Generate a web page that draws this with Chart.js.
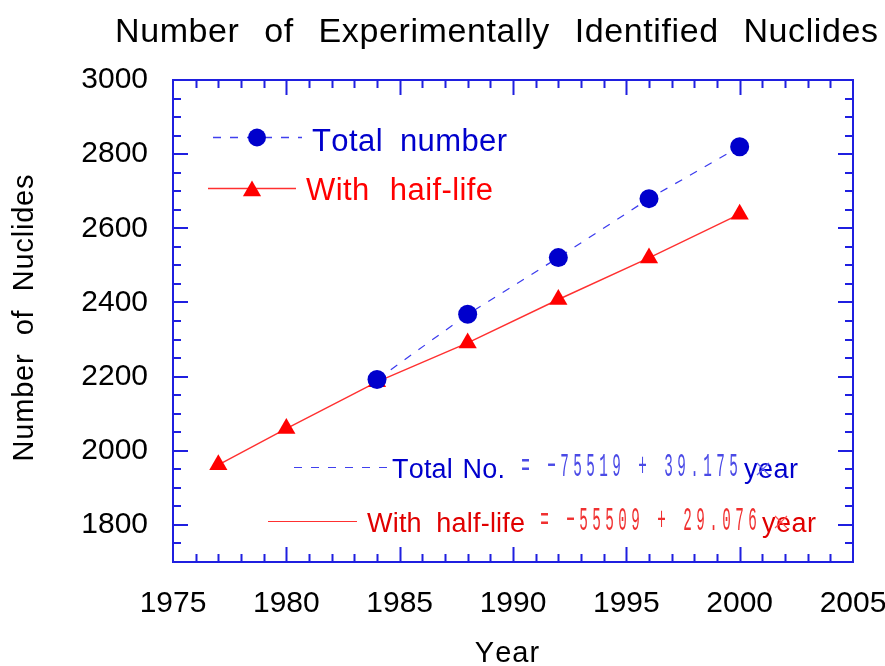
<!DOCTYPE html>
<html><head><meta charset="utf-8">
<script src="https://cdn.jsdelivr.net/npm/chart.js@4.4.1/dist/chart.umd.min.js"></script>
<style>html,body{margin:0;padding:0;background:#fff}#wrap{width:885px;height:666px;position:relative}</style>
</head><body><div id="wrap"><canvas id="c" width="885" height="666"></canvas></div>
<script>
// ---- data ----
const totalYears = [1984, 1988, 1992, 1996, 2000];
const totalNumber = [2192, 2368, 2521, 2680, 2820];
const halfLifeYears = [1977, 1980, 1984, 1988, 1992, 1996, 2000];
const withHalfLife = [1962, 2060, 2186, 2291, 2408, 2520, 2638];
const xTickLabels = [1975, 1980, 1985, 1990, 1995, 2000, 2005];
const yTickLabels = [1800, 2000, 2200, 2400, 2600, 2800, 3000];
const fitTotal = ['-75519', '39.175'];
const fitHalf = ['-55509', '29.076'];
const titleText = 'Number of Experimentally Identified Nuclides';
const xTitle = 'Year';
const yTitle = 'Number of Nuclides';
const legendTotal = 'Total number';
const legendHalf = 'With haif-life';
const eqTotalLabel = 'Total No.';
const eqHalfLabel = 'With half-life';

const FONT = '"Liberation Sans", Arial, sans-serif';
const BLUE = '#0000cc';
const RED = '#ff0000';
const AXIS = '#1f1fe0';

function wordWidth(ctx, w, ls) {
  let s = 0;
  for (const ch of w) s += ctx.measureText(ch).width + ls;
  return s - ls;
}
function drawWord(ctx, w, x, y, ls) {
  let cx = x;
  for (const ch of w) { ctx.fillText(ch, cx, y); cx += ctx.measureText(ch).width + ls; }
}
function spacedText(ctx, text, x, y, target, align, ls) {
  ls = ls || 0;
  const words = text.split(' ');
  const widths = words.map(w => wordWidth(ctx, w, ls));
  const wsum = widths.reduce((a, b) => a + b, 0);
  const sp = words.length > 1 ? (target - wsum) / (words.length - 1) : 0;
  const total = words.length > 1 ? target : wsum;
  let cx = align === 'center' ? x - total / 2 : (align === 'right' ? x - total : x);
  ctx.textAlign = 'left';
  words.forEach((w, i) => { drawWord(ctx, w, cx, y, ls); cx += widths[i] + sp; });
}

function monoText(ctx, str, x, y, adv, color) {
  ctx.save();
  ctx.fillStyle = color;
  ctx.font = '34px "Liberation Mono", "Courier New", monospace';
  ctx.textAlign = 'center';
  ctx.textBaseline = 'alphabetic';
  for (let i = 0; i < str.length; i++) {
    const ch = str[i] === '-' ? '\u2212' : str[i];
    if (ch === ' ') continue;
    ctx.save();
    ctx.translate(x + i * adv + adv / 2, y);
    ctx.scale(0.42, 1);
    ctx.fillText(ch, 0, 0);
    ctx.restore();
  }
  ctx.restore();
}

function crossMark(ctx, x, y, color) {
  ctx.save();
  ctx.strokeStyle = color; ctx.lineWidth = 1.2;
  ctx.beginPath();
  ctx.moveTo(x - 6, y - 6); ctx.lineTo(x + 6, y + 6);
  ctx.moveTo(x + 6, y - 6); ctx.lineTo(x - 6, y + 6);
  ctx.stroke();
  ctx.restore();
}

function triangle(ctx, x, y, r, color) {
  ctx.save();
  ctx.fillStyle = color;
  ctx.beginPath();
  ctx.moveTo(x, y - r);
  ctx.lineTo(x + r * Math.sin(Math.PI / 3), y + r * 0.5);
  ctx.lineTo(x - r * Math.sin(Math.PI / 3), y + r * 0.5);
  ctx.closePath(); ctx.fill();
  ctx.restore();
}

const framePlugin = {
  id: 'frame',
  beforeDatasetsDraw(chart) {
    const ctx = chart.ctx, a = chart.chartArea;
    const xs = chart.scales.x, ys = chart.scales.y;
    ctx.save();
    ctx.strokeStyle = AXIS; ctx.lineWidth = 2;
    ctx.strokeRect(a.left, a.top, a.right - a.left, a.bottom - a.top);
    ctx.beginPath();
    for (let v = xs.min + 1; v < xs.max; v += 1) {
      const px = Math.round(xs.getPixelForValue(v)) + 0.5;
      const len = (v % 5 === 0) ? 15 : 8;
      ctx.moveTo(px, a.bottom); ctx.lineTo(px, a.bottom - len);
      ctx.moveTo(px, a.top); ctx.lineTo(px, a.top + len);
    }
    for (let v = ys.min + 50; v < ys.max; v += 50) {
      const py = Math.round(ys.getPixelForValue(v));
      const len = (v % 200 === 0) ? 15 : 8;
      ctx.moveTo(a.left, py); ctx.lineTo(a.left + len, py);
      ctx.moveTo(a.right, py); ctx.lineTo(a.right - len, py);
    }
    ctx.stroke();
    ctx.restore();
  },
  afterDraw(chart) {
    const ctx = chart.ctx;
    ctx.save();
    ctx.textBaseline = 'alphabetic';
    // title
    ctx.fillStyle = '#000';
    ctx.font = '34px ' + FONT;
    spacedText(ctx, titleText, 496.5, 42, 763, 'center', 0.6);
    // x title
    ctx.font = '29px ' + FONT;
    spacedText(ctx, xTitle, 507, 662, 0, 'center', 1);
    // y title
    ctx.save();
    ctx.translate(33, 318);
    ctx.rotate(-Math.PI / 2);
    ctx.font = '29px ' + FONT;
    spacedText(ctx, yTitle, 0, 0, 287, 'center', 0.8);
    ctx.restore();

    // legend (top)
    ctx.save();
    ctx.strokeStyle = '#4040ee'; ctx.lineWidth = 1.5; ctx.setLineDash([8, 9]);
    ctx.beginPath(); ctx.moveTo(213, 137.5); ctx.lineTo(302, 137.5); ctx.stroke();
    ctx.setLineDash([]);
    ctx.strokeStyle = '#ff3030'; ctx.lineWidth = 1.5;
    ctx.beginPath(); ctx.moveTo(208, 188.5); ctx.lineTo(296, 188.5); ctx.stroke();
    ctx.restore();
    ctx.fillStyle = BLUE;
    ctx.beginPath(); ctx.arc(257, 137.5, 9, 0, Math.PI * 2); ctx.fill();
    triangle(ctx, 252, 191, 10.5, RED);
    ctx.font = '31px ' + FONT;
    ctx.fillStyle = BLUE;
    spacedText(ctx, legendTotal, 312, 151, 195, 'left', 0.4);
    ctx.fillStyle = RED;
    spacedText(ctx, legendHalf, 306, 200, 187, 'left', 0.4);

    // fit equations (bottom)
    ctx.save();
    ctx.strokeStyle = '#4040ee'; ctx.lineWidth = 1.2; ctx.setLineDash([8, 9]);
    ctx.beginPath(); ctx.moveTo(294, 467.5); ctx.lineTo(388, 467.5); ctx.stroke();
    ctx.setLineDash([]);
    ctx.strokeStyle = '#ff3030';
    ctx.beginPath(); ctx.moveTo(268, 521.5); ctx.lineTo(357, 521.5); ctx.stroke();
    ctx.restore();
    ctx.font = '27px ' + FONT;
    ctx.fillStyle = BLUE;
    spacedText(ctx, eqTotalLabel, 392, 478, 113, 'left', 0.2);
    monoText(ctx, '= ' + fitTotal[0] + ' + ' + fitTotal[1], 519, 476, 13, '#4a4ae6');
    ctx.font = '27px ' + FONT; ctx.fillStyle = BLUE;
    drawWord(ctx, 'year', 744, 478, 0.5);
    crossMark(ctx, 763, 469, '#6060f0');
    ctx.font = '27px ' + FONT;
    ctx.fillStyle = '#e00000';
    spacedText(ctx, eqHalfLabel, 367, 532, 158, 'left', 0.2);
    monoText(ctx, '= ' + fitHalf[0] + ' + ' + fitHalf[1], 538, 530, 13, '#f03030');
    ctx.font = '27px ' + FONT; ctx.fillStyle = '#e00000';
    drawWord(ctx, 'year', 762, 532, 0.5);
    crossMark(ctx, 781, 522, '#ff5050');
    ctx.restore();
  }
};

const ctx = document.getElementById('c').getContext('2d');
new Chart(ctx, {
  type: 'line',
  data: {
    datasets: [
      {
        label: legendTotal,
        data: totalYears.map((x, i) => ({ x, y: totalNumber[i] })),
        borderColor: '#3a3aee', borderWidth: 1.2, borderDash: [8, 9],
        pointStyle: 'circle', pointRadius: 9.5, pointBorderWidth: 0,
        pointBackgroundColor: BLUE, pointBorderColor: BLUE,
        tension: 0, fill: false
      },
      {
        label: legendHalf,
        data: halfLifeYears.map((x, i) => ({ x, y: withHalfLife[i] })),
        borderColor: '#ff3030', borderWidth: 1.4,
        pointStyle: 'triangle', pointRadius: 10.5, pointBorderWidth: 0,
        pointBackgroundColor: RED, pointBorderColor: RED,
        tension: 0, fill: false
      }
    ]
  },
  options: {
    responsive: false, animation: false, devicePixelRatio: 1,
    layout: { padding: { top: 80, right: 0, left: 0, bottom: 0 } },
    plugins: { legend: { display: false }, tooltip: { enabled: false }, title: { display: false } },
    scales: {
      x: {
        type: 'linear', min: 1975, max: 2005,
        afterBuildTicks: s => { s.ticks = xTickLabels.map(v => ({ value: v })); },
        afterFit: s => { s.height = 104; s.paddingLeft = 0; s.paddingRight = 32; },
        grid: { display: false, drawTicks: false }, border: { display: false },
        ticks: { color: '#000', font: { family: FONT, size: 30 }, padding: 24, maxRotation: 0, autoSkip: false,
                 callback: v => String(v) }
      },
      y: {
        type: 'linear', min: 1700, max: 3000,
        afterBuildTicks: s => { s.ticks = yTickLabels.map(v => ({ value: v })); },
        afterFit: s => { s.width = 173; s.paddingTop = 0; s.paddingBottom = 0; },
        grid: { display: false, drawTicks: false }, border: { display: false },
        ticks: { color: '#000', font: { family: FONT, size: 30 }, padding: 25, autoSkip: false,
                 callback: v => String(v) }
      }
    }
  },
  plugins: [framePlugin]
});
</script></body></html>
